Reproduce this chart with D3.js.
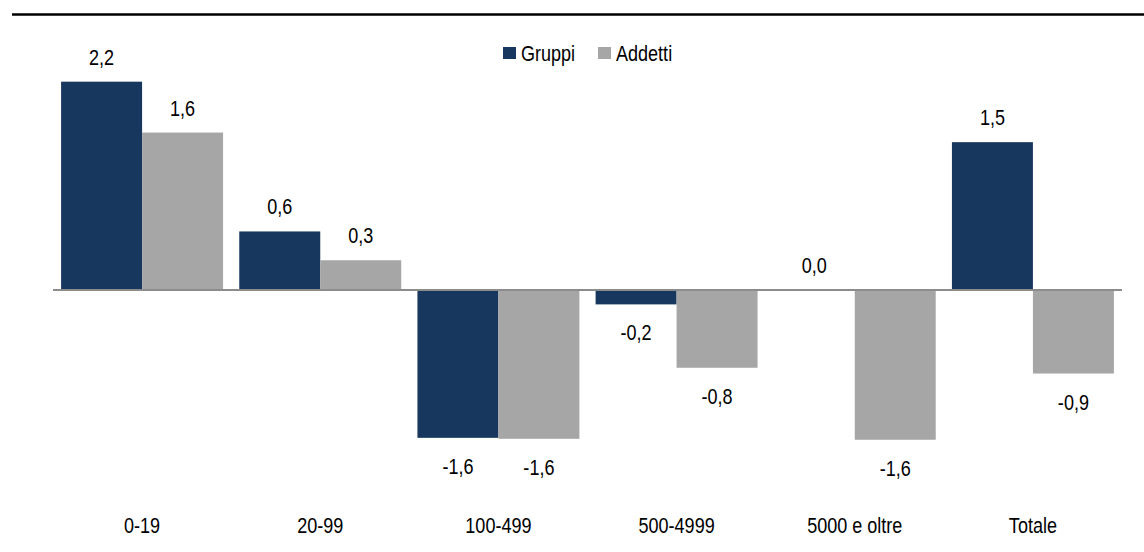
<!DOCTYPE html>
<html>
<head>
<meta charset="utf-8">
<script src="https://cdn.jsdelivr.net/npm/d3@7"></script>
<style>
  body { margin: 0; background: #fff; }
  text { font-family: "Liberation Sans Narrow", "Arial Narrow", "Liberation Sans", Arial, sans-serif; fill: #000; }
</style>
</head>
<body>
<div id="chart"></div>
<script>
// categories and series (labels as printed)
var categories = ['0-19', '20-99', '100-499', '500-4999', '5000 e oltre', 'Totale'];
var seriesNames = ['Gruppi', 'Addetti'];
var gruppi = [2.17, 0.61, -1.54, -0.15, 0.0, 1.54];
var addetti = [1.64, 0.31, -1.55, -0.81, -1.56, -0.87];
var gruppiLabels = ['2,2', '0,6', '-1,6', '-0,2', '0,0', '1,5'];
var addettiLabels = ['1,6', '0,3', '-1,6', '-0,8', '-1,6', '-0,9'];
var colors = ['#17375e', '#a6a6a6'];

var width = 1144, height = 552;
// no narrow font installed, so squeeze the text horizontally
var squeeze = 0.82;

function place(x, y) {
    return 'translate(' + x + ',' + y + ') scale(' + squeeze + ',1)';
}

var svg = d3.select('#chart')
    .append('svg')
    .attr('width', width)
    .attr('height', height);

// top rule
svg.append('line')
    .attr('x1', 12).attr('x2', width)
    .attr('y1', 14.5).attr('y2', 14.5)
    .attr('stroke', '#000')
    .attr('stroke-width', 2.5);

var x0 = d3.scaleBand()
    .domain(categories)
    .range([53, 1122]);

var x1 = d3.scaleBand()
    .domain(seriesNames)
    .range([0, x0.bandwidth()])
    .paddingOuter(0.1);

var y = d3.scaleLinear()
    .domain([-2.5, 2.5])
    .range([530, 50]);

var rows = [];
categories.forEach(function(c, i) {
    rows.push({cat: c, s: 'Gruppi', v: gruppi[i], lab: gruppiLabels[i]});
    rows.push({cat: c, s: 'Addetti', v: addetti[i], lab: addettiLabels[i]});
});

var color = d3.scaleOrdinal().domain(seriesNames).range(colors);

svg.selectAll('rect.bar')
    .data(rows)
    .enter().append('rect')
    .attr('class', 'bar')
    .attr('x', function(d) { return x0(d.cat) + x1(d.s); })
    .attr('width', x1.bandwidth())
    .attr('y', function(d) { return Math.min(y(d.v), y(0)); })
    .attr('height', function(d) { return Math.abs(y(d.v) - y(0)); })
    .attr('fill', function(d) { return color(d.s); });

// zero line
svg.append('line')
    .attr('x1', 53).attr('x2', 1122)
    .attr('y1', y(0)).attr('y2', y(0))
    .attr('stroke', '#8c8c8c')
    .attr('stroke-width', 2);

// value labels
svg.selectAll('text.val')
    .data(rows)
    .enter().append('text')
    .attr('class', 'val')
    .attr('text-anchor', 'middle')
    .attr('font-size', 22)
    .attr('transform', function(d) {
        var cx = x0(d.cat) + x1(d.s) + x1.bandwidth() / 2;
        var cy = d.v >= 0 ? y(d.v) - 17 : y(d.v) + 36;
        return place(cx, cy);
    })
    .text(function(d) { return d.lab; });

// category labels
svg.selectAll('text.cat')
    .data(categories)
    .enter().append('text')
    .attr('class', 'cat')
    .attr('text-anchor', 'middle')
    .attr('font-size', 22)
    .attr('transform', function(d) { return place(x0(d) + x0.bandwidth() / 2, 533); })
    .text(function(d) { return d; });

// legend
var legendX = [503, 598];
var legend = svg.selectAll('g.leg')
    .data(seriesNames)
    .enter().append('g')
    .attr('class', 'leg')
    .attr('transform', function(d, i) { return 'translate(' + legendX[i] + ',47)'; });

legend.append('rect')
    .attr('width', 13).attr('height', 12)
    .attr('fill', function(d) { return color(d); });

legend.append('text')
    .attr('font-size', 22)
    .attr('transform', place(18, 13.5))
    .text(function(d) { return d; });
</script>
</body>
</html>
